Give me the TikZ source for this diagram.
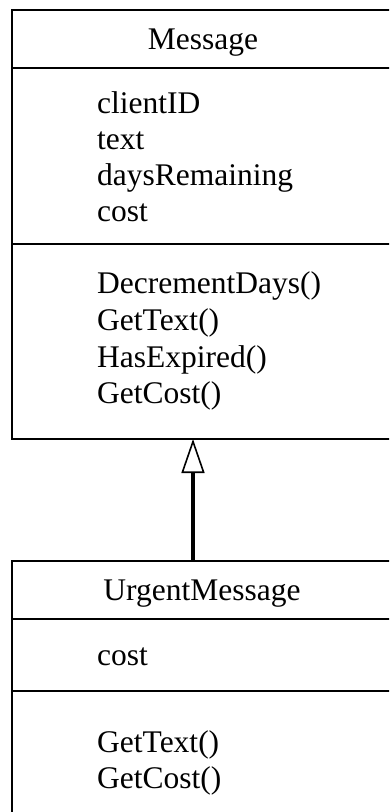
\documentclass[tikz,border=0pt]{standalone}
\usepackage{fontspec}
\setmainfont{Liberation Serif}
\usetikzlibrary{arrows.meta}
\begin{document}
\begin{tikzpicture}[x=1pt,y=-1pt,
  boxline/.style={line width=1.6pt},
  lbl/.style={inner sep=0pt,anchor=base west,font=\fontsize{31.5}{36}\selectfont},
  ttl/.style={inner sep=0pt,anchor=base,font=\fontsize{31.5}{36}\selectfont}]
\useasboundingbox (0,0) rectangle (389,812);
\begin{scope}
\clip (0,0) rectangle (389,812);
% Message class
\draw[boxline] (12,10) rectangle (396,439);
\draw[boxline] (12,68) -- (396,68);
\draw[boxline] (12,244) -- (396,244);
% UrgentMessage class
\draw[boxline] (12,561) rectangle (396,830);
\draw[boxline] (12,619) -- (396,619);
\draw[boxline] (12,691) -- (396,691);
\end{scope}
\node[ttl] (mname) at (203,49) {Message};
\node[lbl] (a1) at (97,113) {clientID};
\node[lbl] (a2) at (97,149) {text};
\node[lbl] (a3) at (97,185) {daysRemaining};
\node[lbl] (a4) at (97,221) {cost};
\node[lbl] (m1) at (97,293) {DecrementDays()};
\node[lbl] (m2) at (97,330) {GetText()};
\node[lbl] (m3) at (97,367) {HasExpired()};
\node[lbl] (m4) at (97,403) {GetCost()};
\node[ttl] (uname) at (202,600) {UrgentMessage};
\node[lbl] (ua1) at (97,665) {cost};
\node[lbl] (um1) at (97,752) {GetText()};
\node[lbl] (um2) at (97,788) {GetCost()};
\coordinate (mb) at (193,439);
\coordinate (ut) at (193,561);
\draw[line width=4pt,-{Triangle[open,length=34pt,width=23pt,line width=1.6pt]}] (ut) -- (mb);
\end{tikzpicture}
\end{document}
